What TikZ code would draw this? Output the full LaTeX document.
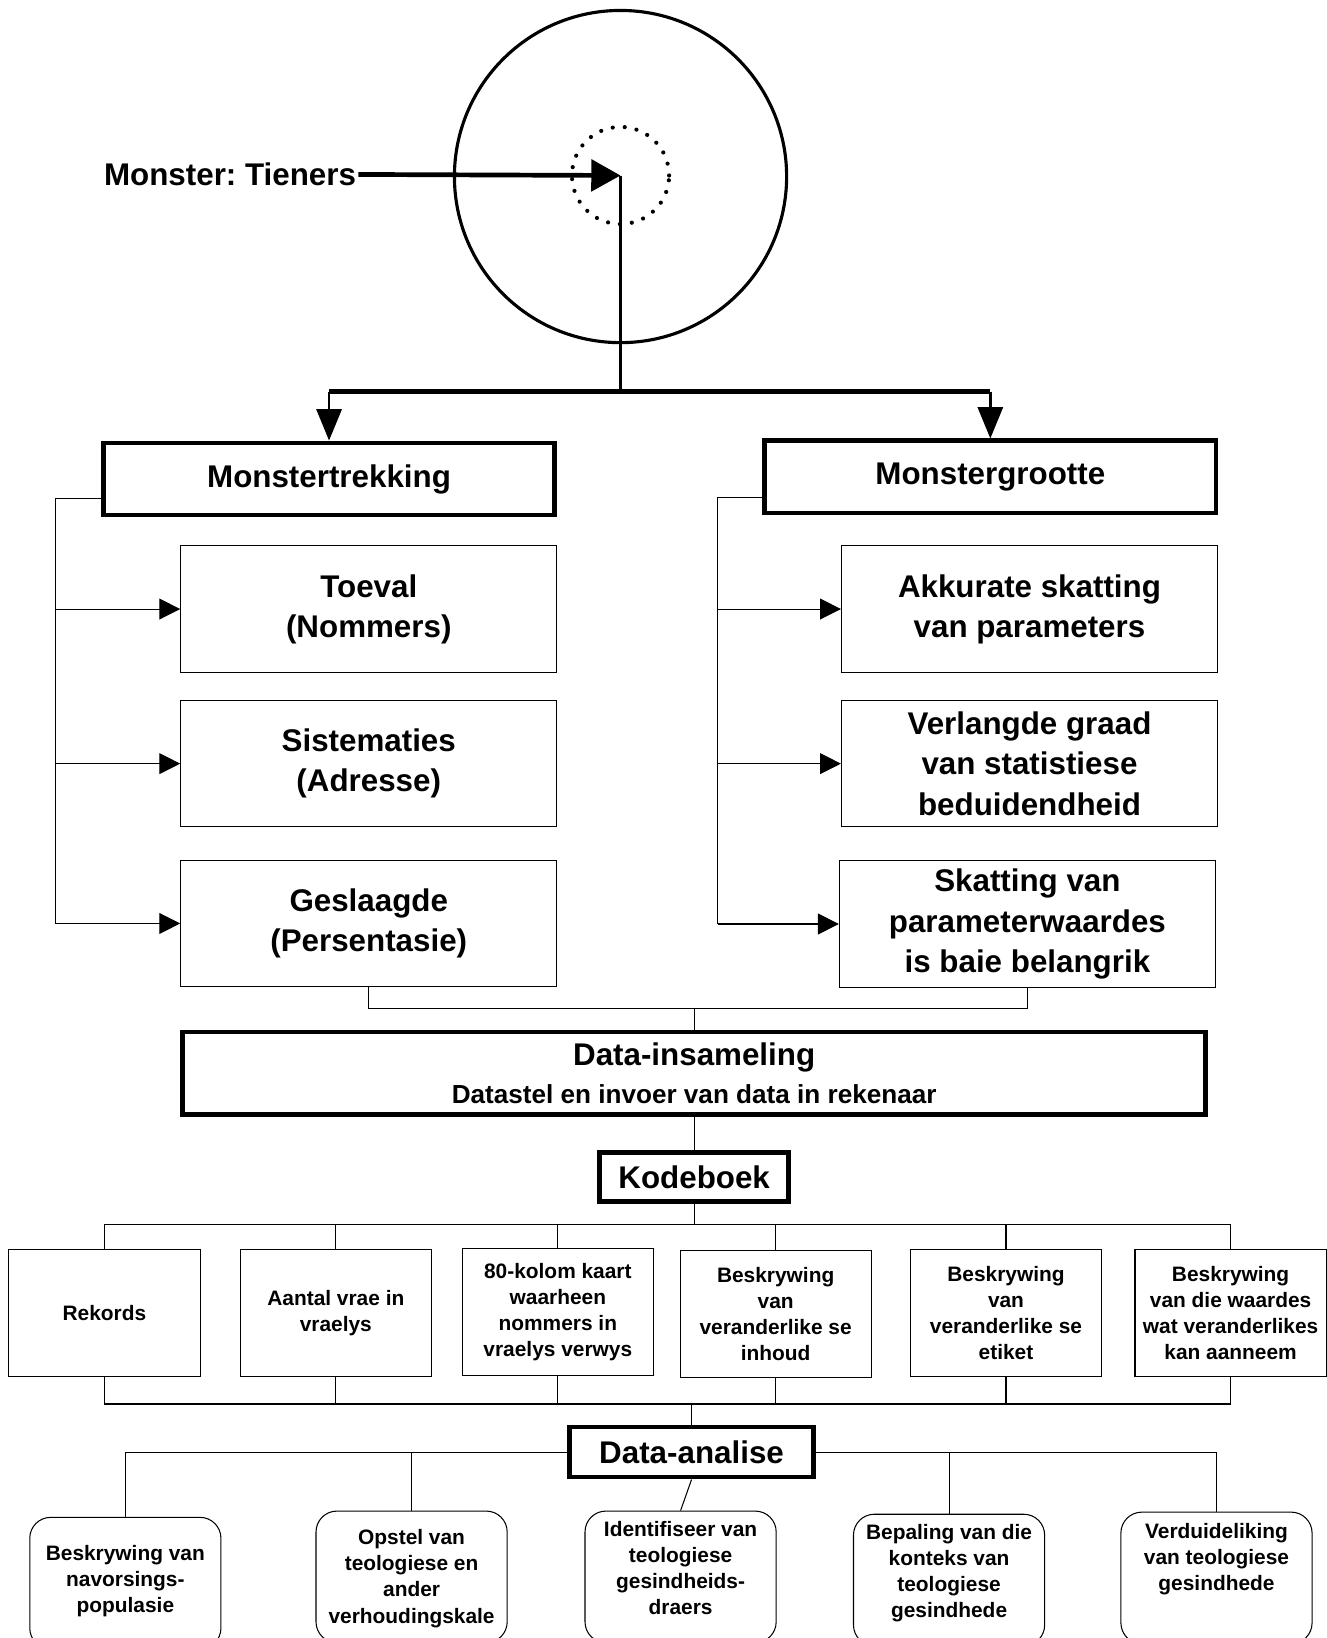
\documentclass[tikz,border=0pt]{standalone}
\usepackage{fontspec}
\setmainfont{Liberation Sans}
\usetikzlibrary{arrows.meta,calc}
\frenchspacing
\begin{document}
\begin{tikzpicture}[x=1pt,y=-1pt,
  tbox/.style={draw, line width=1pt, minimum width=360pt, minimum height=121pt, align=center, inner sep=0pt, font=\bfseries\fontsize{30}{38.5}\selectfont},
  hbox/.style={draw, line width=4.5pt, align=center, inner sep=0pt, font=\bfseries\fontsize{30}{36}\selectfont},
  sbox/.style={draw, line width=1pt, minimum width=183pt, minimum height=121pt, align=center, inner sep=0pt, font=\bfseries\fontsize{20}{25}\selectfont},
  rbox/.style={draw, line width=1pt, rounded corners=20pt, minimum width=183pt, minimum height=126pt, inner sep=0pt, anchor=north},
  rtxt/.style={align=center, anchor=north, inner sep=0pt, font=\bfseries\fontsize{20}{25}\selectfont},
  ln/.style={line width=1pt},
  tri/.style={-{Triangle[length=20pt,width=20pt]}},
]
\useasboundingbox (0,0) rectangle (1270,1568);

% population and sample
\node[circle, draw, line width=3pt, minimum size=318pt, inner sep=0pt] (pop) at (594,169) {};
\node[circle, draw, line width=4pt, dash pattern=on 0pt off 11.5pt, line cap=round, minimum size=93pt, inner sep=0pt] (smp) at (594,168) {};
\coordinate (ctr) at (594,168);
\coordinate (split) at (594,375);
\node[anchor=east, inner sep=2pt, font=\bfseries\fontsize{30}{36}\selectfont] (mon) at (343,167) {Monster: Tieners};
\draw[line width=4.5pt,-{Triangle[length=28pt,width=30pt]}] (mon.east) -- (ctr);
\draw[line width=2.5pt] (ctr) -- (split);

% level 1
\node[hbox, minimum width=432pt, minimum height=69pt] (mt) at (315,458.5) {Monstertrekking};
\node[hbox, minimum width=432pt, minimum height=69pt] (mg) at (948,456.5) {Monstergrootte};
\draw[line width=4.5pt] (split -| mt.north) -- (split -| mg.north);
\draw[line width=2.5pt,-{Triangle[length=30pt,width=24pt]}] (split -| mt.north) -- (mt.north);
\draw[line width=2.5pt,-{Triangle[length=30pt,width=24pt]}] (split -| mg.north) -- (mg.north);

% left column
\node[tbox] (toe) at (353,583) {Toeval\\(Nommers)};
\node[tbox] (sis) at (353,731) {Sistematies\\(Adresse)};
\node[tbox] (ges) at (353,884) {Geslaagde\\(Persentasie)};
\coordinate (lb) at (53,477);
\draw[ln] (mt.west |- lb) -- (lb) -- (lb |- ges.west);
\draw[ln,tri] (lb |- toe.west) -- (toe.west);
\draw[ln,tri] (lb |- sis.west) -- (sis.west);
\draw[ln,tri] (lb |- ges.west) -- (ges.west);

% right column
\node[tbox] (akk) at (985.5,583) {Akkurate skatting\\van parameters};
\node[tbox] (ver) at (985.5,731) {Verlangde graad\\van statistiese\\beduidendheid};
\node[tbox] (ska) at (983.5,884.5) {Skatting van\\parameterwaardes\\is baie belangrik};
\coordinate (rb) at (687,476);
\draw[ln] (mg.west |- rb) -- (rb) -- (rb |- ska.west);
\draw[ln,tri] (rb |- akk.west) -- (akk.west);
\draw[ln,tri] (rb |- ver.west) -- (ver.west);
\draw[ln,tri] (rb |- ska.west) -- (ska.west);

% data collection
\node[hbox, minimum width=979pt, minimum height=79pt] (din) at (664.5,1027.5) {};
\node[inner sep=0pt, font=\bfseries\fontsize{30}{36}\selectfont] (dint) at (664.5,1012) {Data-insameling};
\node[inner sep=0pt, font=\bfseries\fontsize{25}{30}\selectfont] (dins) at (664.5,1047) {Datastel en invoer van data in rekenaar};
\coordinate (jn) at (665,965);
\draw[ln] (ges.south) |- (jn) -| (ska.south);
\draw[ln] (jn) -- (jn |- din.north);

% codebook
\node[hbox, minimum width=181pt, minimum height=47pt] (kb) at (664.5,1126.5) {Kodeboek};
\draw[ln] (din.south) -- (kb.north);
\node[sbox] (r1) at (100,1257) {Rekords};
\node[sbox] (r2) at (321.5,1257) {Aantal vrae in\\vraelys};
\node[sbox] (r3) at (534,1256) {80-kolom kaart\\waarheen\\nommers in\\vraelys verwys};
\node[sbox] (r4) at (742.5,1258) {Beskrywing\\van\\veranderlike se\\inhoud};
\node[sbox] (r5) at (963,1257) {Beskrywing\\van\\veranderlike se\\etiket};
\node[sbox] (r6) at (1178,1257) {Beskrywing\\van die waardes\\wat veranderlikes\\kan aanneem};
\coordinate (k1) at (664.5,1172);
\coordinate (k2) at (662,1344);
\draw[ln] (kb.south) -- (k1);
\draw[ln] (r1.north |- k1) -- (r6.north |- k1);
\draw[ln] (r1.south |- k2) -- (r6.south |- k2);
\foreach \i in {1,...,6} {
  \draw[ln] (r\i.north) -- (r\i.north |- k1);
  \draw[ln] (r\i.south) -- (r\i.south |- k2);
}

% data analysis
\node[hbox, minimum width=234pt, minimum height=48pt] (da) at (662,1390) {Data-analise};
\draw[ln] (k2) -- (da.north);
\node[rbox] (b1) at (120,1452) {};
\node[rbox] (b2) at (394,1446) {};
\node[rbox] (b3) at (651.5,1446) {};
\node[rbox] (b4) at (908.5,1449) {};
\node[rbox] (b5) at (1164.5,1447) {};
\node[rtxt] (t1) at (120,1479) {Beskrywing van\\navorsings-\\populasie};
\node[rtxt] (t2) at (394,1464) {Opstel van\\teologiese en\\ander\\verhoudingskale};
\node[rtxt] (t3) at (651.5,1456) {Identifiseer van\\teologiese\\gesindheids-\\draers};
\node[rtxt] (t4) at (908.5,1459) {Bepaling van die\\konteks van\\teologiese\\gesindhede};
\node[rtxt] (t5) at (1164.5,1458) {Verduideliking\\van teologiese\\gesindhede};
\draw[ln] (da.west) -| (b1.north);
\draw[ln] (da.east) -| (b5.north);
\draw[ln] (b2.north |- da.west) -- (b2.north);
\draw[ln] (b4.north |- da.east) -- (b4.north);
\draw[ln] (da.south) -- (b3.north);
\end{tikzpicture}
\end{document}
